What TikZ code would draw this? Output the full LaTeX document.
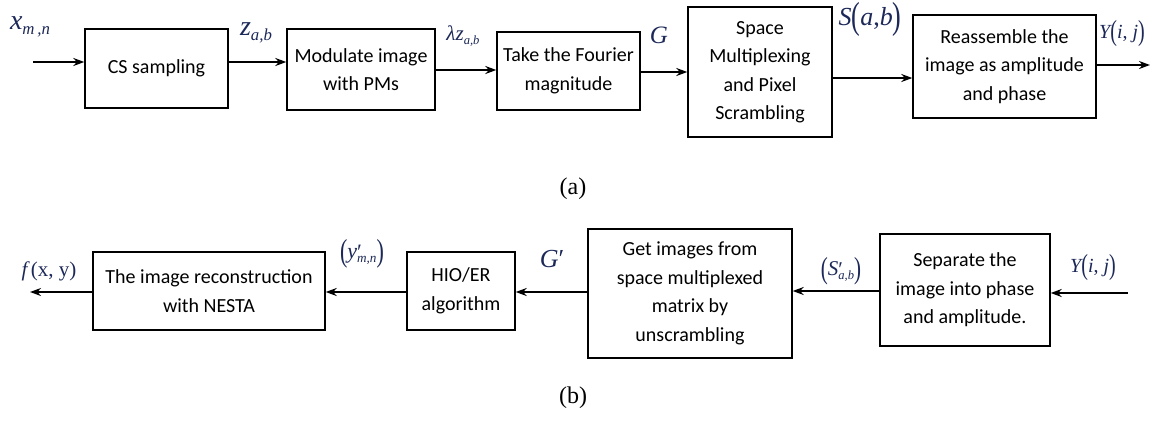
\documentclass[tikz,border=0pt]{standalone}
\usepackage{fontspec}
\setmainfont{Carlito}
\newfontfamily\tms{Liberation Serif}
\usetikzlibrary{arrows.meta}
\definecolor{lblblue}{RGB}{28,40,88}
\newcommand{\mi}[1]{{\tms\itshape #1}}
\newcommand{\sbs}[2]{\raisebox{#1}{\scalebox{0.6}{#2}}}
\newcommand{\tallp}[2]{\raisebox{#1}{\scalebox{1}[1.45]{#2}}}
\newcommand{\prm}{\rlap{\raisebox{-0.05em}{\upshape\tms ′}}}
\begin{document}
\begin{tikzpicture}[x=1pt,y=-1pt,
  box/.style={draw,line width=1.4pt,inner sep=0pt,align=center,
    font=\fontsize{20}{28.5}\selectfont},
  arr/.style={line width=2pt,-{Stealth[length=11pt,width=8pt]}},
  lbl/.style={inner sep=0pt,text=lblblue},
  captext/.style={inner sep=0pt,font=\tms\fontsize{24}{28}\selectfont}]
\useasboundingbox (0,0) rectangle (1160,421);
% row (a)
\node[box,minimum width=143pt,minimum height=79pt] (cs) at (156.5,68.5) {CS sampling};
\node[box,minimum width=148pt,minimum height=81pt] (mod) at (361,69.5) {Modulate image\\with PMs};
\node[box,minimum width=143pt,minimum height=78pt] (ft) at (568.5,71) {Take the Fourier\\magnitude};
\node[box,minimum width=144pt,minimum height=130pt] (sp) at (760,72) {Space\\Multiplexing\\and Pixel\\Scrambling};
\node[box,minimum width=183pt,minimum height=103pt] (ra) at (1004.5,66.5) {Reassemble the\\image as amplitude\\and phase};
\coordinate (xin) at (33,62);
\coordinate (yout) at (1150,65);
\draw[arr] (xin) -- (cs.west |- xin);
\draw[arr] (cs.east |- 0,62) -- (mod.west |- 0,62);
\draw[arr] (mod.east |- 0,70) -- (ft.west |- 0,70);
\draw[arr] (ft.east |- 0,72) -- (sp.west |- 0,72);
\draw[arr] (sp.east |- 0,78) -- (ra.west |- 0,78);
\draw[arr] (ra.east |- yout) -- (yout);
\node[lbl,font=\tms\fontsize{28}{30}\selectfont] (lx) at (30,27) {\mi{x}\sbs{-5pt}{\mi{m\,,n}}};
\node[lbl,font=\tms\fontsize{28}{30}\selectfont] (lz) at (256,33) {\mi{z}\sbs{-5pt}{\mi{a,b}}};
\node[lbl,font=\tms\fontsize{21}{24}\selectfont] (llz) at (463,36) {\mi{λz}\sbs{-4pt}{\mi{a,b}}};
\node[lbl,font=\tms\fontsize{25}{28}\selectfont] (lg) at (659,35) {\mi{G}};
\node[lbl,font=\tms\fontsize{26}{30}\selectfont] (ls) at (870,19) {\mi{S}\tallp{-3pt}{(}\mi{a},\mi{b}\tallp{-3pt}{)}};
\node[lbl,font=\tms\fontsize{20}{24}\selectfont] (ly) at (1122,34) {\mi{Y}\tallp{-2pt}{(}\mi{i}, \mi{j}\tallp{-2pt}{)}};
\node[captext] (capa) at (573,189) {(a)};
% row (b)
\node[box,minimum width=232pt,minimum height=78pt] (rec) at (209,291) {The image reconstruction\\with NESTA};
\node[box,minimum width=108pt,minimum height=78pt] (hio) at (461,291) {HIO/ER\\algorithm};
\node[box,minimum width=204pt,minimum height=129pt] (gi) at (690,293.5) {Get images from\\space multiplexed\\matrix by\\unscrambling};
\node[box,minimum width=170pt,minimum height=112pt] (sep) at (965,290) {Separate the\\image into phase\\and amplitude.};
\coordinate (yin) at (1128,293);
\coordinate (fout) at (30,292);
\draw[arr] (yin) -- (sep.east |- yin);
\draw[arr] (sep.west |- 0,291) -- (gi.east |- 0,291);
\draw[arr] (gi.west |- 0,292) -- (hio.east |- 0,292);
\draw[arr] (hio.west |- 0,292) -- (rec.east |- 0,292);
\draw[arr] (rec.west |- fout) -- (fout);
\node[lbl,font=\tms\fontsize{21}{24}\selectfont] (lf) at (49,271) {\mi{f}\,(x, y)};
\node[lbl,font=\tms\fontsize{22}{26}\selectfont] (lyp) at (362,254) {\tallp{-3pt}{(}\mi{y}\prm\sbs{-4pt}{\mi{m,n}}\tallp{-3pt}{)}};
\node[lbl,font=\tms\fontsize{26}{28}\selectfont] (lgp) at (552,259) {\mi{G}{\upshape ′}};
\node[lbl,font=\tms\fontsize{21}{24}\selectfont] (lsp) at (841,271) {\tallp{-3pt}{(}\mi{S}\prm\sbs{-4pt}{\mi{a,b}}\tallp{-3pt}{)}};
\node[lbl,font=\tms\fontsize{20}{24}\selectfont] (lyb) at (1093,268) {\mi{Y}\tallp{-2pt}{(}\mi{i}, \mi{j}\tallp{-2pt}{)}};
\node[captext] (capb) at (573,398) {(b)};
\end{tikzpicture}
\end{document}
